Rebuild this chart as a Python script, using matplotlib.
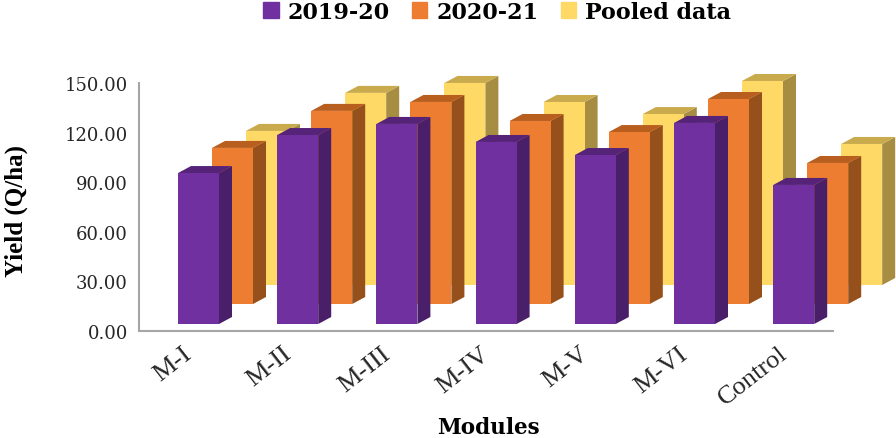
import matplotlib
matplotlib.use('Agg')
import matplotlib.pyplot as plt
from matplotlib.patches import Polygon
from matplotlib.transforms import ScaledTranslation

modules = ['M-I', 'M-II', 'M-III', 'M-IV', 'M-V', 'M-VI', 'Control']
y2019 = [91.3, 114.3, 121, 110.1, 102.2, 121.6, 84.1]
y2020 = [94.4, 116.8, 122.2, 110.7, 104, 124, 85.3]
pooled = [93.2, 116.2, 122.2, 110.7, 103.4, 123.4, 85.3]
yticks = [0, 30, 60, 90, 120, 150]

W, H = 896, 439
ax_left, ax_right, ax_bottom, ax_top = 139, 833, 332, 84
px_per_unit = (ax_bottom - ax_top) / 150
px_per_cat = 99.2

# bar shape in axes units, the axes are 1 unit = 99.2 px on x
bar_w = 41 / px_per_cat
depth_x = 13 / px_per_cat
depth_y = 7 / px_per_unit

series = [
    ('Pooled data', pooled, 68, 46, '#ffd966', '#a68d42', '#c9ab4e'),
    ('2020-21', y2020, 34, 27, '#ed7d31', '#95501c', '#b85f20'),
    ('2019-20', y2019, 0, 7, '#7030a0', '#481f68', '#552479'),
]

fig = plt.figure(figsize=(W / 100, H / 100), dpi=100)
ax = fig.add_axes([ax_left / W, 1 - ax_bottom / H, (ax_right - ax_left) / W, (ax_bottom - ax_top) / H])
ax.set_xlim(-59.5 / px_per_cat, (ax_right - ax_left - 59.5) / px_per_cat)
ax.set_ylim(0, 150)

for name, vals, dx, base, front, side, top in series:
    xoff = dx / px_per_cat
    b = base / px_per_unit
    for i, v in enumerate(vals):
        x0 = i + xoff - bar_w / 2
        x1 = x0 + bar_w
        y1 = b + v
        ax.add_patch(Polygon([(x1, b), (x1 + depth_x, b + depth_y), (x1 + depth_x, y1 + depth_y), (x1, y1)],
                             color=side, lw=0, clip_on=False))
        ax.add_patch(Polygon([(x0, y1), (x0 + depth_x, y1 + depth_y), (x1 + depth_x, y1 + depth_y), (x1, y1)],
                             color=top, lw=0, clip_on=False))
        ax.bar(x0, v, bar_w, bottom=b, align='edge', color=front, lw=0, clip_on=False)

for s in ['top', 'right']:
    ax.spines[s].set_visible(False)
for s in ['left', 'bottom']:
    ax.spines[s].set_color('#a6a6a6')
    ax.spines[s].set_linewidth(1.5)

ax.set_yticks(yticks)
ax.set_yticklabels(['%.2f' % t for t in yticks], family='DejaVu Serif', fontsize=13, color='#262626')
ax.set_xticks(range(len(modules)))
ax.set_xticklabels(modules, family='Liberation Serif', fontsize=19, color='#262626',
                   rotation=38, ha='right', rotation_mode='anchor')
ax.tick_params(axis='y', length=0, pad=8)
ax.tick_params(axis='x', length=0, pad=8)

# the labels end left of the tick position
for lbl in ax.get_xticklabels():
    lbl.set_transform(lbl.get_transform() + ScaledTranslation(-0.16, 0, fig.dpi_scale_trans))

fig.text(488 / W, 1 - 434 / H, 'Modules', family='DejaVu Serif', weight='bold', fontsize=15.5,
         ha='center', va='baseline', color='black')
fig.text(16 / W, 1 - 211 / H, 'Yield (Q/ha)', family='Liberation Serif', weight='bold', fontsize=18,
         rotation=90, ha='center', va='center', color='black')

# legend
handles = [plt.Rectangle((0, 0), 1, 1, color=c) for c in ['#7030a0', '#ed7d31', '#ffd966']]
fig.legend(handles, ['2019-20', '2020-21', 'Pooled data'], loc='upper center', bbox_to_anchor=(497 / W, 1 + 18 / H),
           ncol=3, frameon=False, prop={'family': 'DejaVu Serif', 'weight': 'bold', 'size': 16},
           handlelength=0.7, handleheight=0.7, handletextpad=0.4, columnspacing=1.0)

fig.savefig('out.png', dpi=100)
